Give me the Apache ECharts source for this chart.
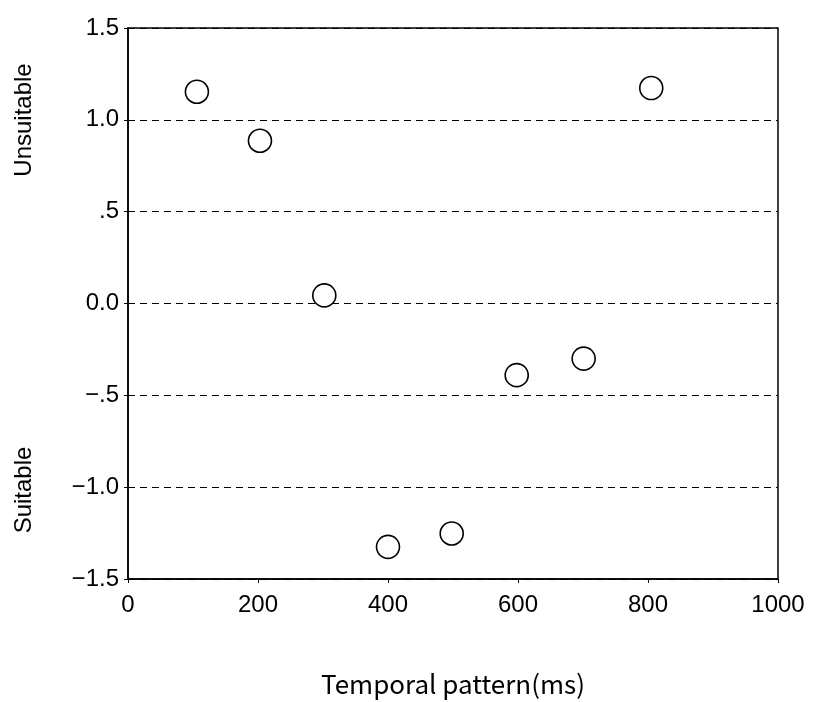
<!DOCTYPE html>
<html>
<head>
<meta charset="utf-8">
<script src="https://cdn.jsdelivr.net/npm/echarts@6/dist/echarts.min.js"></script>
<style>html,body{margin:0;padding:0;background:#fff;}#c{width:813px;height:702px;}</style>
</head>
<body>
<div id="c"></div>
<script>
const xValues = [106, 203, 302, 400, 498, 598, 701, 805];
const yValues = [1.153, 0.886, 0.044, -1.325, -1.252, -0.39, -0.30, 1.173];
const xTitle = 'Temporal pattern(ms)';
const upperLabel = 'Unsuitable';
const lowerLabel = 'Suitable';

const FONT = "'Liberation Sans', Arial, sans-serif";
const chart = echarts.init(document.getElementById('c'));
function fmtY(v) {
  const r = Math.round(v * 10) / 10;
  if (Math.abs(r - 0.5) < 1e-9) return '.5';
  if (Math.abs(r + 0.5) < 1e-9) return '\u2212.5';
  return (r < 0 ? '\u2212' : '') + Math.abs(r).toFixed(1);
}
chart.setOption({
  animation: false,
  backgroundColor: '#fff',
  grid: { left: 128, right: 35, top: 28, bottom: 123, outerBoundsMode: 'none', containLabel: false, show: true, borderColor: '#000', borderWidth: 1.5, backgroundColor: 'transparent' },
  xAxis: {
    type: 'value', min: 0, max: 1000, interval: 200,
    name: xTitle, nameLocation: 'middle', nameGap: 92,
    nameTextStyle: { fontFamily: "'Noto Sans CJK JP'", fontSize: 26, color: '#000' },
    axisLine: { show: true, onZero: false, lineStyle: { color: '#000', width: 1.5 } },
    axisTick: { show: true, length: 4, lineStyle: { color: '#000' } },
    axisLabel: { fontFamily: FONT, fontSize: 24, color: '#000', margin: 14, formatter: v => String(v) },
    splitLine: { show: false }
  },
  yAxis: {
    type: 'value', min: -1.5, max: 1.5, interval: 0.5,
    axisLine: { show: true, onZero: false, lineStyle: { color: '#000', width: 1.5 } },
    axisTick: { show: true, length: 4, lineStyle: { color: '#000' } },
    axisLabel: { fontFamily: FONT, fontSize: 24, color: '#000', margin: 9, formatter: fmtY },
    splitLine: { show: true, lineStyle: { color: '#000', type: [7, 5], width: 1.2 } }
  },
  graphic: [
    { type: 'text', x: 24, y: 120, rotation: Math.PI / 2, style: { text: upperLabel, font: '24px ' + FONT, fill: '#000', align: 'center', verticalAlign: 'middle' } },
    { type: 'text', x: 24, y: 490, rotation: Math.PI / 2, style: { text: lowerLabel, font: '24px ' + FONT, fill: '#000', align: 'center', verticalAlign: 'middle' } }
  ],
  series: [{
    type: 'scatter',
    data: xValues.map((x, i) => [x, yValues[i]]),
    symbol: 'circle',
    symbolSize: 23,
    itemStyle: { color: '#fff', borderColor: '#000', borderWidth: 1.6, opacity: 1 }
  }]
});
</script>
</body>
</html>
